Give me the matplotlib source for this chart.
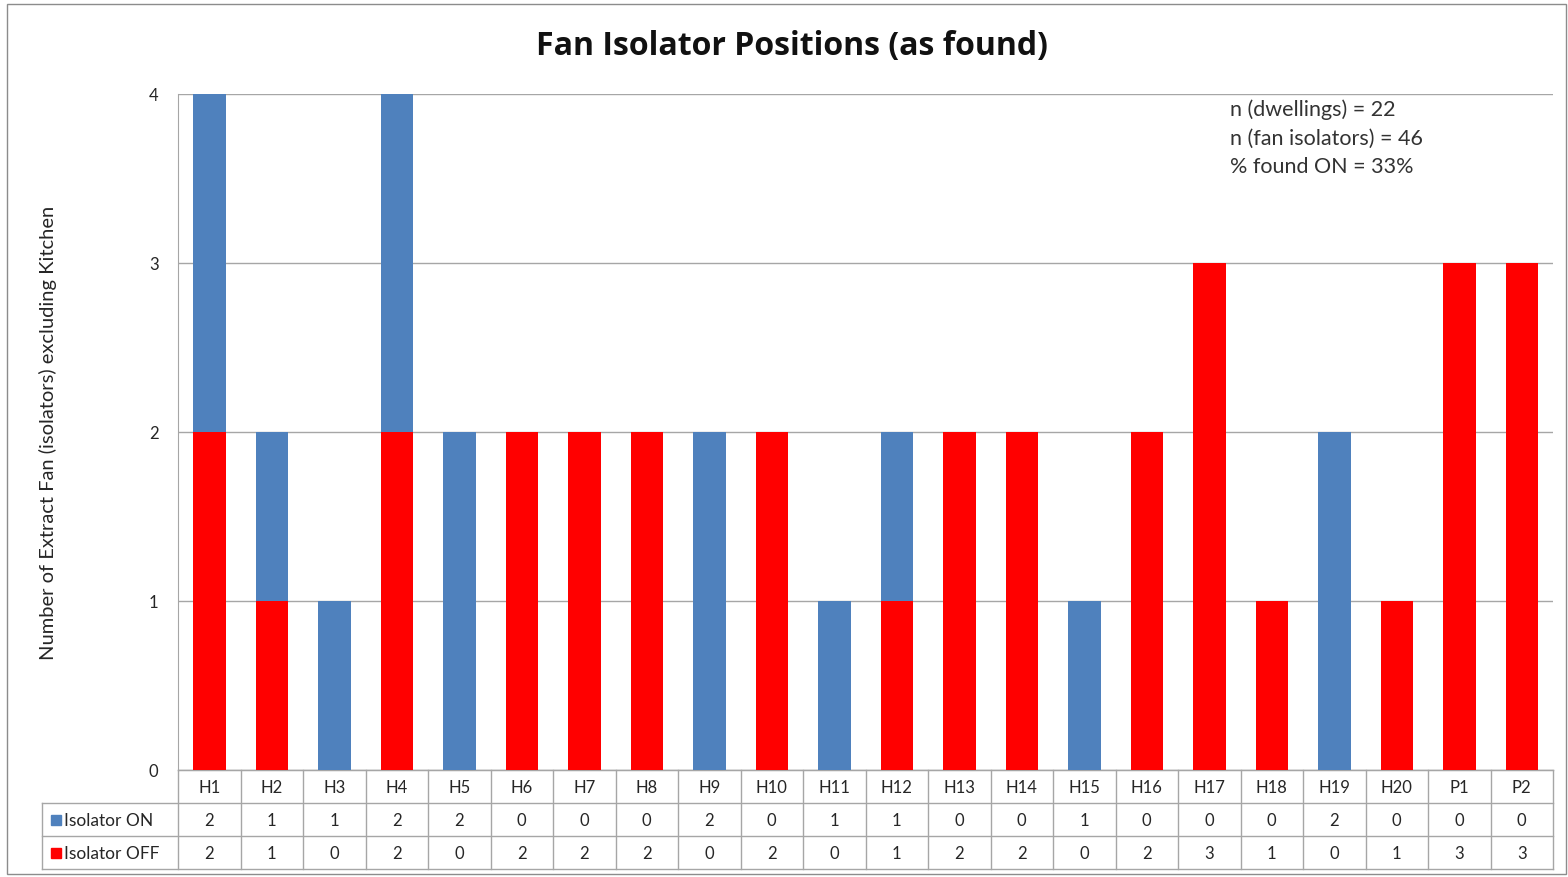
import matplotlib
matplotlib.use("Agg")
import matplotlib.pyplot as plt
import matplotlib.transforms as mtransforms
from matplotlib.patches import Rectangle
from matplotlib.lines import Line2D

plt.rcParams['font.family'] = ['Lato', 'DejaVu Sans']

categories = ["H1", "H2", "H3", "H4", "H5", "H6", "H7", "H8", "H9", "H10", "H11",
              "H12", "H13", "H14", "H15", "H16", "H17", "H18", "H19", "H20", "P1", "P2"]
isolator_on = [2, 1, 1, 2, 2, 0, 0, 0, 2, 0, 1, 1, 0, 0, 1, 0, 0, 0, 2, 0, 0, 0]
isolator_off = [2, 1, 0, 2, 0, 2, 2, 2, 0, 2, 0, 1, 2, 2, 0, 2, 3, 1, 0, 1, 3, 3]
series_names = ["Isolator ON", "Isolator OFF"]
yticks = [0, 1, 2, 3, 4]
title = "Fan Isolator Positions (as found)"
ylabel = "Number of Extract Fan (isolators) excluding Kitchen"
notes = ["n (dwellings) = 22", "n (fan isolators) = 46", "% found ON = 33%"]

BLUE = "#4F81BD"
RED = "#FF0000"
GRID = "#A6A6A6"
TXT = "#262626"

W, H = 1568, 878
fig = plt.figure(figsize=(W / 100, H / 100), dpi=100)
fig.patches.append(Rectangle((7 / W, 3 / H), (W - 9) / W, (H - 8) / H, transform=fig.transFigure,
                             fill=False, edgecolor="#8C8C8C", linewidth=1.0))

L, R, T, B = 178, 1553, 95, 771
ax = fig.add_axes([L / W, (H - B) / H, (R - L) / W, (B - T) / H])

n = len(categories)
x = list(range(n))
ax.bar(x, isolator_off, width=0.52, color=RED, zorder=3)
ax.bar(x, isolator_on, width=0.52, bottom=isolator_off, color=BLUE, zorder=3)

ax.set_xlim(-0.5, n - 0.5)
ax.set_ylim(0, 4)
ax.set_yticks(yticks)
ax.set_yticklabels([str(v) for v in yticks], fontsize=12, color=TXT)
ax.tick_params(axis="y", length=0, pad=14)
ax.set_xticks([])
ax.grid(axis="y", color=GRID, linewidth=1.0, zorder=0)
for s in ["top", "right"]:
    ax.spines[s].set_visible(False)
ax.spines["left"].set_color(GRID)
ax.spines["bottom"].set_color(GRID)

fig.text(792 / W, 1 - 46 / H, title, ha="center", va="center", fontsize=23, fontweight="bold",
         family=["Open Sans", "DejaVu Sans"], color="#111111")
fig.text(48 / W, 1 - 433 / H, ylabel, ha="center", va="center", rotation=90, fontsize=14.5, color=TXT)

for i, t in enumerate(notes):
    ax.text((1230 - L) / (R - L), (B - (110 + 28.5 * i)) / (B - T), t, transform=ax.transAxes,
            ha="left", va="center", fontsize=15.5, color="#333333")

# data table drawn with lines and text (x in data coords, y in axes coords)
tr = mtransforms.blended_transform_factory(ax.transData, ax.transAxes)
px = (R - L) / n  # pixels per category
x_lab = -0.5 - (L - 42) / px
ya = lambda ypix: (B - ypix) / (B - T)
y_rows = [771, 804, 837, 870]
lw = 1.0
ax.add_line(Line2D([-0.5, n - 0.5], [ya(771)] * 2, transform=tr, color=GRID, lw=lw, clip_on=False))
for yp in y_rows[1:]:
    ax.add_line(Line2D([x_lab, n - 0.5], [ya(yp)] * 2, transform=tr, color=GRID, lw=lw, clip_on=False))
for j in range(n + 1):
    ax.add_line(Line2D([j - 0.5] * 2, [ya(771), ya(870)], transform=tr, color=GRID, lw=lw, clip_on=False))
ax.add_line(Line2D([x_lab] * 2, [ya(804), ya(870)], transform=tr, color=GRID, lw=lw, clip_on=False))

for j, c in enumerate(categories):
    ax.text(j, ya(788), c, transform=tr, ha="center", va="center", fontsize=12, color=TXT)
row_centers = [821, 854]
for vals, yc in zip([isolator_on, isolator_off], row_centers):
    for j, v in enumerate(vals):
        ax.text(j, ya(yc), str(v), transform=tr, ha="center", va="center", fontsize=12, color=TXT)

for name, colr, yc in zip(series_names, [BLUE, RED], row_centers):
    yy = ya(yc)
    ax.add_patch(Rectangle(((51 - L) / (R - L), yy - 5 / (B - T)), 10 / (R - L), 10 / (B - T),
                           transform=ax.transAxes, color=colr, clip_on=False))
    ax.text((64 - L) / (R - L), yy, name, transform=ax.transAxes, ha="left", va="center",
            fontsize=12.5, color=TXT)

fig.savefig("out.png", dpi=100)
